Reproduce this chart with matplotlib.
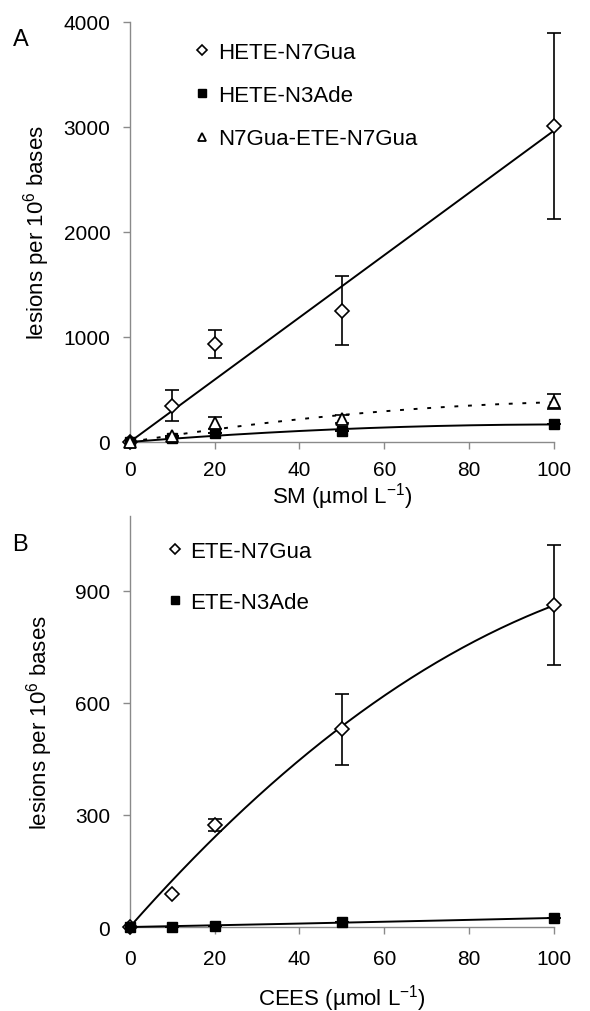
import numpy as np
import matplotlib
matplotlib.use("Agg")
import matplotlib.pyplot as plt
from matplotlib.lines import Line2D

plt.rcParams['font.family'] = ['Liberation Sans', 'DejaVu Sans']
plt.rcParams['mathtext.fontset'] = 'custom'
plt.rcParams['mathtext.rm'] = 'Liberation Sans'
plt.rcParams['mathtext.it'] = 'Liberation Sans:italic'

# ---- data ----
conc = [0, 10, 20, 50, 100]

sm_n7gua = [0, 345, 930, 1250, 3010]
sm_n7gua_err = [0, 150, 135, 330, 885]
sm_n3ade = [0, 38, 82, 105, 170]
sm_n3ade_err = [0, 0, 0, 0, 0]
sm_cross = [0, 57, 180, 220, 385]
sm_cross_err = [0, 0, 55, 40, 75]

cees_n7gua = [0, 88, 273, 530, 862]
cees_n7gua_err = [0, 0, 16, 95, 160]
cees_n3ade = [0, 1, 3, 13, 24]
cees_n3ade_err = [0, 0, 0, 0, 0]

top_labels = ['HETE-N7Gua', 'HETE-N3Ade', 'N7Gua-ETE-N7Gua']
bot_labels = ['ETE-N7Gua', 'ETE-N3Ade']

GREY = '#8a8a8a'
FIG_W, FIG_H = 590, 1012


def fit_curve(x, y):
    x = np.asarray(x, float)
    y = np.asarray(y, float)
    A = np.column_stack([x, x ** 2])
    coef, *_ = np.linalg.lstsq(A, y, rcond=None)
    xs = np.linspace(0, x.max(), 200)
    return xs, coef[0] * xs + coef[1] * xs ** 2


styles = {
    'diamond': dict(marker='D', ms=7, mfc='white', mec='black', mew=1.2),
    'square': dict(marker='s', ms=7.5, mfc='black', mec='black', mew=1.0),
    'triangle': dict(marker='^', ms=8, mfc='white', mec='black', mew=1.3),
}


def draw_series(ax, y, err, style, ls):
    xs, ys = fit_curve(conc, y)
    ax.plot(xs, ys, color='black', lw=1.4, ls=ls, zorder=2, clip_on=False)
    ax.errorbar(conc, y, yerr=err, fmt='none', ecolor='black', elinewidth=1.2,
                capsize=5, capthick=1.2, zorder=3, clip_on=False)
    ax.plot(conc, y, ls='none', zorder=4, clip_on=False, **styles[style])


def style_axes(ax, ymax, yticks, xpad, ylab_right_px):
    ax.set_xlim(0, 100)
    ax.set_ylim(0, ymax)
    ax.set_xticks([0, 20, 40, 60, 80, 100])
    ax.set_yticks(yticks)
    for s in ['top', 'right']:
        ax.spines[s].set_visible(False)
    for s in ['left', 'bottom']:
        ax.spines[s].set_color(GREY)
        ax.spines[s].set_linewidth(1.0)
        ax.spines[s].set_zorder(1)
    ax.tick_params(axis='both', colors=GREY, labelcolor='black', labelsize=15,
                   length=5, width=1.0, direction='out')
    ax.tick_params(axis='y', pad=9)
    ax.tick_params(axis='x', pad=xpad)
    ax.set_ylabel('lesions per 10$^6$ bases', fontsize=16)
    ax.yaxis.set_label_coords((ylab_right_px - 130) / 424, 0.5)


fig = plt.figure(figsize=(FIG_W / 100, FIG_H / 100), dpi=100)

axA = fig.add_axes([0.220, 0.5623, 0.719, 0.415])
draw_series(axA, sm_n7gua, sm_n7gua_err, 'diamond', '-')
draw_series(axA, sm_n3ade, sm_n3ade_err, 'square', '-')
draw_series(axA, sm_cross, sm_cross_err, 'triangle', (0, (2, 5)))
style_axes(axA, 4000, [0, 1000, 2000, 3000, 4000], 8, 52)
axA.set_xlabel('SM (µmol L$^{-1}$)', fontsize=16, labelpad=1)

axB = fig.add_axes([0.220, 0.083, 0.719, 0.406])
draw_series(axB, cees_n7gua, cees_n7gua_err, 'diamond', '-')
draw_series(axB, cees_n3ade, cees_n3ade_err, 'square', '-')
style_axes(axB, 1100, [0, 300, 600, 900], 11, 55)
axB.set_xlabel('CEES (µmol L$^{-1}$)', fontsize=16, labelpad=10)


def leg_handle(style, scale=0.8):
    st = dict(styles[style])
    st['ms'] = st['ms'] * scale
    return Line2D([], [], ls='none', **st)


axA.legend([leg_handle('diamond'), leg_handle('square'), leg_handle('triangle')],
           top_labels, loc='upper left',
           bbox_to_anchor=(196 / FIG_W, 1 - 43 / FIG_H),
           bbox_transform=fig.transFigure, frameon=False, fontsize=16,
           handlelength=0.55, handletextpad=0.45, labelspacing=1.0, borderpad=0,
           borderaxespad=0)
axB.legend([leg_handle('diamond'), leg_handle('square')],
           bot_labels, loc='upper left',
           bbox_to_anchor=(169 / FIG_W, 1 - 542 / FIG_H),
           bbox_transform=fig.transFigure, frameon=False, fontsize=16,
           handlelength=0.55, handletextpad=0.4, labelspacing=1.35, borderpad=0,
           borderaxespad=0)

fig.text(21 / FIG_W, 1 - 40 / FIG_H, 'A', fontsize=17, va='center', ha='center')
fig.text(20 / FIG_W, 1 - 545 / FIG_H, 'B', fontsize=17, va='center', ha='center')

fig.savefig('out.png', dpi=100)
